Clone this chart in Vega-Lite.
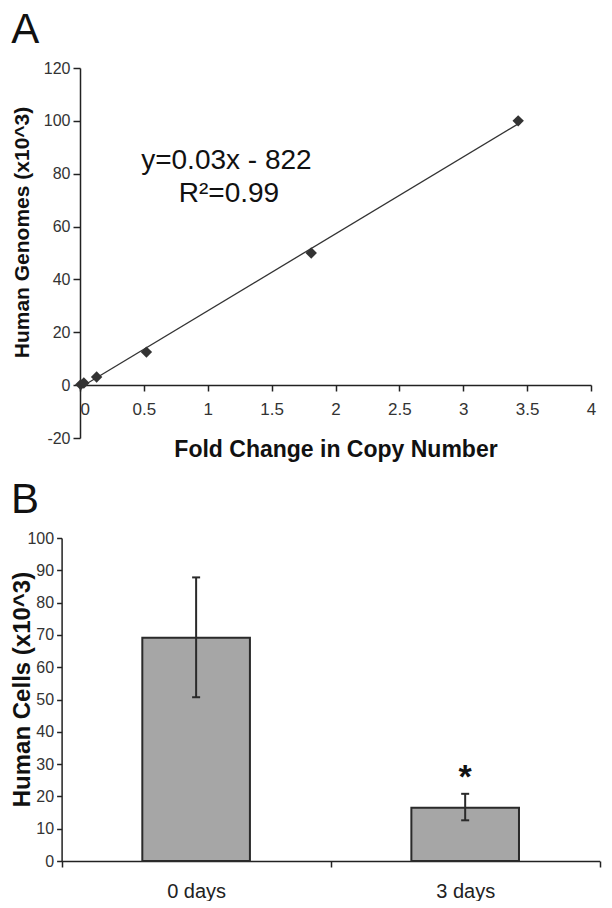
{
  "$schema": "https://vega.github.io/schema/vega-lite/v6.json",
  "background": "white",
  "padding": {"left": 10, "top": 9, "right": 0, "bottom": 0},
  "config": {
    "view": {"stroke": null},
    "font": "Liberation Sans",
    "axis": {"grid": false, "domainColor": "#222", "tickColor": "#222", "labelColor": "#333", "titleColor": "#111", "labelFont": "Liberation Sans", "titleFont": "Liberation Sans", "domainWidth": 1.5, "tickWidth": 1.5, "labelOverlap": false},
    "title": {"font": "Liberation Sans", "fontSize": 42, "fontWeight": "normal", "anchor": "start", "frame": "bounds", "color": "#111"}
  },
  "columns": 1,
  "spacing": 18,
  "concat": [
    {
      "title": {"text": "A", "offset": 8},
      "width": 511,
      "height": 370,
      "data": {"values": [
        {"fold": 0.006, "genomes": 0.2},
        {"fold": 0.03, "genomes": 0.8},
        {"fold": 0.13, "genomes": 3.1},
        {"fold": 0.52, "genomes": 12.5},
        {"fold": 1.81, "genomes": 50},
        {"fold": 3.43, "genomes": 100}
      ]},
      "encoding": {
        "x": {"field": "fold", "type": "quantitative",
          "scale": {"domain": [0, 4], "nice": false, "zero": false},
          "axis": {"title": "Fold Change in Copy Number", "values": [0, 0.5, 1, 1.5, 2, 2.5, 3, 3.5, 4], "labelExpr": "'' + datum.value", "offset": -53, "tickSize": 6, "labelPadding": 10, "labelFontSize": 17, "labelFlush": false, "titleFontSize": 23, "titleFontWeight": "bold", "titlePadding": 21,
            "labelAlign": {"condition": {"test": "datum.value === 0", "value": "left"}, "value": "center"}}},
        "y": {"field": "genomes", "type": "quantitative",
          "scale": {"domain": [-20, 120], "nice": false, "zero": false},
          "axis": {"title": "Human Genomes (x10^3)", "values": [-20, 0, 20, 40, 60, 80, 100, 120], "labelExpr": "'' + datum.value", "tickSize": 7, "labelPadding": 3, "labelFontSize": 16, "titleFontSize": 21, "titleFontWeight": "bold", "titlePadding": 11, "titleY": 164}}
      },
      "layer": [
        {"transform": [{"regression": "genomes", "on": "fold"}],
         "mark": {"type": "line", "color": "#333", "strokeWidth": 1.3}},
        {"mark": {"type": "point", "shape": "diamond", "filled": true, "size": 130, "color": "#333", "opacity": 1}},
        {"data": {"values": [
            {"fold": 1.146, "genomes": 85.0, "label": "y=0.03x - 822"},
            {"fold": 1.166, "genomes": 72.3, "label": "R²=0.99"}
          ]},
         "mark": {"type": "text", "fontSize": 28, "font": "Liberation Sans", "color": "#111", "baseline": "middle", "align": "center"},
         "encoding": {"text": {"field": "label", "type": "nominal"}}}
      ]
    },
    {
      "title": {"text": "B", "offset": 8},
      "width": 519.7,
      "height": 323,
      "data": {"values": [
        {"day": "0 days", "cells": 69.1, "lo": 50.7, "hi": 87.8, "sig": ""},
        {"day": "3 days", "cells": 16.5, "lo": 12.6, "hi": 20.8, "sig": "*"}
      ]},
      "encoding": {
        "x": {"field": "day", "type": "nominal",
          "scale": {"paddingInner": 0, "paddingOuter": 0, "range": [-18.4, 519.7]},
          "axis": {"title": null, "labelAngle": 0, "tickBand": "extent", "labelFontSize": 20, "labelPadding": 14, "tickSize": 6, "labelColor": "#222"}}
      },
      "layer": [
        {"mark": {"type": "bar", "width": {"band": 0.4}, "fill": "#a6a6a6", "stroke": "#2a2a2a", "strokeWidth": 2},
         "encoding": {"y": {"field": "cells", "type": "quantitative",
           "scale": {"domain": [0, 100], "nice": false},
           "axis": {"title": "Human Cells (x10^3)", "offset": 18.4, "values": [0, 10, 20, 30, 40, 50, 60, 70, 80, 90, 100], "tickSize": 5, "labelPadding": 3, "labelFontSize": 16, "titleFontSize": 24, "titleFontWeight": "bold", "titlePadding": -8, "titleY": 151}}}},
        {"mark": {"type": "rule", "color": "#2a2a2a", "strokeWidth": 2},
         "encoding": {"y": {"field": "lo", "type": "quantitative",
           "scale": {"domain": [0, 100], "nice": false},
           "axis": {"title": "Human Cells (x10^3)", "offset": 18.4, "values": [0, 10, 20, 30, 40, 50, 60, 70, 80, 90, 100], "tickSize": 5, "labelPadding": 3, "labelFontSize": 16, "titleFontSize": 24, "titleFontWeight": "bold", "titlePadding": -8, "titleY": 151}},
           "y2": {"field": "hi"}}},
        {"mark": {"type": "tick", "color": "#2a2a2a", "thickness": 2, "size": 8, "opacity": 1},
         "encoding": {"y": {"field": "lo", "type": "quantitative",
           "scale": {"domain": [0, 100], "nice": false},
           "axis": {"title": "Human Cells (x10^3)", "offset": 18.4, "values": [0, 10, 20, 30, 40, 50, 60, 70, 80, 90, 100], "tickSize": 5, "labelPadding": 3, "labelFontSize": 16, "titleFontSize": 24, "titleFontWeight": "bold", "titlePadding": -8, "titleY": 151}}}},
        {"mark": {"type": "tick", "color": "#2a2a2a", "thickness": 2, "size": 8, "opacity": 1},
         "encoding": {"y": {"field": "hi", "type": "quantitative",
           "scale": {"domain": [0, 100], "nice": false},
           "axis": {"title": "Human Cells (x10^3)", "offset": 18.4, "values": [0, 10, 20, 30, 40, 50, 60, 70, 80, 90, 100], "tickSize": 5, "labelPadding": 3, "labelFontSize": 16, "titleFontSize": 24, "titleFontWeight": "bold", "titlePadding": -8, "titleY": 151}}}},
        {"mark": {"type": "text", "fontSize": 34, "fontWeight": "bold", "color": "#111", "baseline": "alphabetic", "dy": -6},
         "encoding": {"y": {"field": "hi", "type": "quantitative",
           "scale": {"domain": [0, 100], "nice": false},
           "axis": {"title": "Human Cells (x10^3)", "offset": 18.4, "values": [0, 10, 20, 30, 40, 50, 60, 70, 80, 90, 100], "tickSize": 5, "labelPadding": 3, "labelFontSize": 16, "titleFontSize": 24, "titleFontWeight": "bold", "titlePadding": -8, "titleY": 151}},
           "text": {"field": "sig", "type": "nominal"}}}
      ]
    }
  ]
}
